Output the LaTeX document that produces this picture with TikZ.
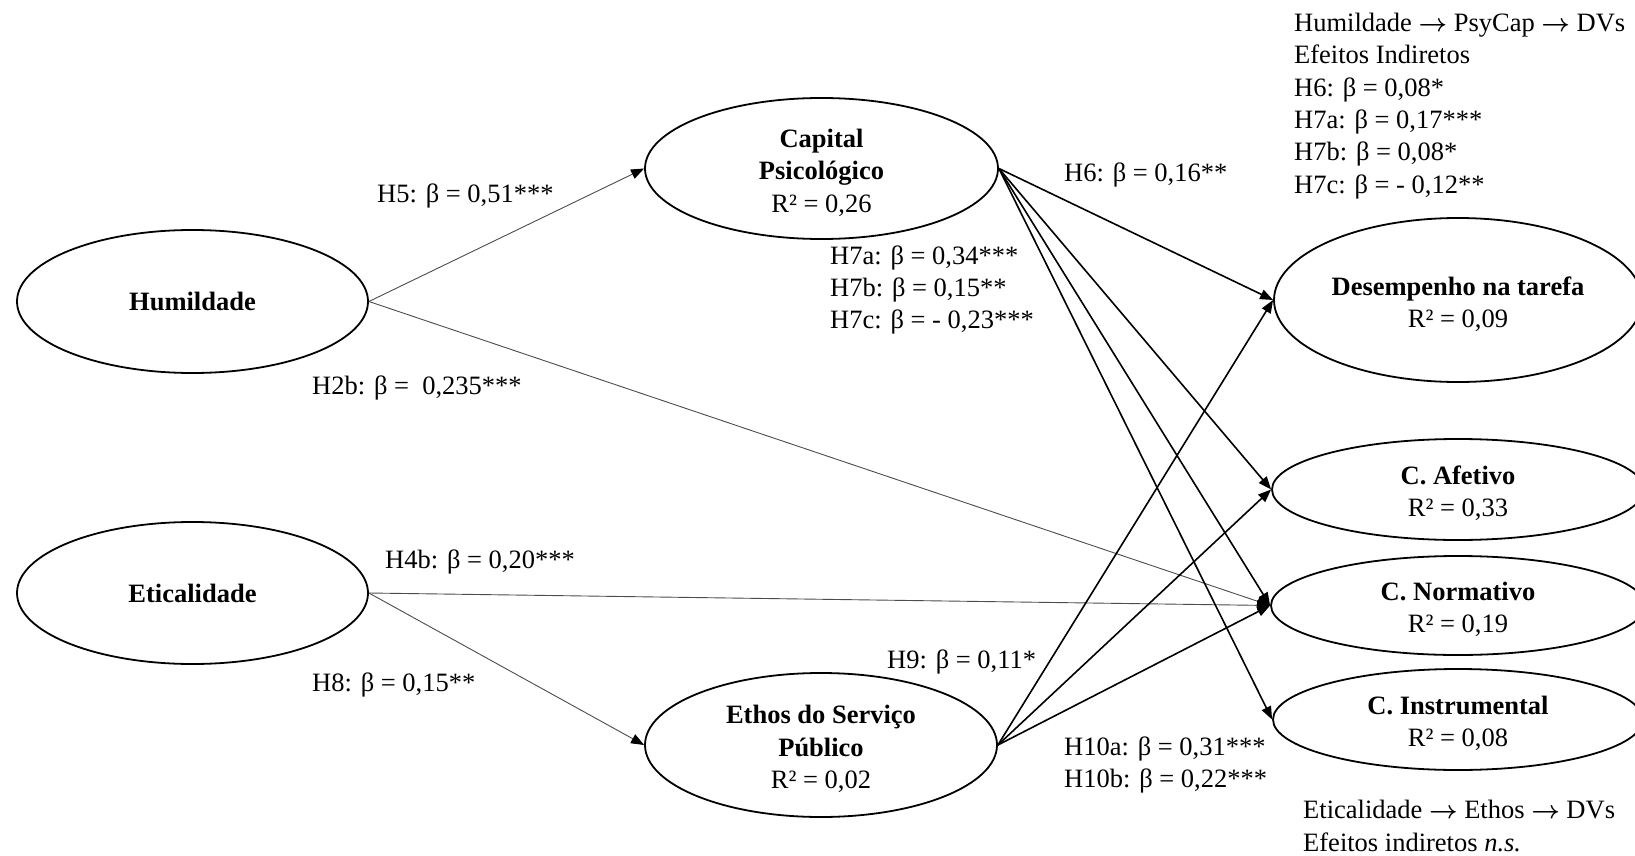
\documentclass[tikz,border=0pt]{standalone}
\usepackage{fontspec}
\setmainfont{Liberation Serif}
\usetikzlibrary{shapes.geometric,arrows.meta}
\newcommand{\tstrut}{\rule{0pt}{26.5pt}}
\newcommand{\barr}{{\boldmath$\rightarrow$}}
\begin{document}
\begin{tikzpicture}[x=1pt,y=-1pt,
  every node/.style={font=\fontsize{26.5}{32.4}\selectfont},
  latent/.style={ellipse, draw, line width=1.8pt, inner sep=0pt, align=center},
  tipx/.style={-{Triangle[length=13pt,width=10pt,color=black,fill=black]}},
  thinarr/.style={draw=black!70, line width=0.9pt, tipx},
  thickarr/.style={draw=black, line width=1.6pt, tipx},
  lbl/.style={anchor=west, inner sep=0pt, align=left}]
\useasboundingbox (0,0) rectangle (1635,856);
\clip (0,0) rectangle (1635,856);

% latent variables
\node[latent, minimum width=351pt, minimum height=143pt] (hum) at (192.5,301.5) {\textbf{Humildade}};
\node[latent, minimum width=351pt, minimum height=142pt] (eti) at (192.5,593) {\textbf{Eticalidade}};
\node[latent, minimum width=353pt, minimum height=141pt] (cap) at (821.5,168.5) {\tstrut\textbf{Capital}\\\textbf{Psicológico}\\R² = 0,26};
\node[latent, minimum width=352pt, minimum height=144pt] (eth) at (821,745) {\tstrut\textbf{Ethos do Serviço}\\\textbf{Público}\\R² = 0,02};
\node[latent, minimum width=368pt, minimum height=164pt] (des) at (1458,300) {\tstrut\textbf{Desempenho na tarefa}\\R² = 0,09};
\node[latent, minimum width=372pt, minimum height=101pt] (afe) at (1458,489.5) {\tstrut\textbf{C. Afetivo}\\R² = 0,33};
\node[latent, minimum width=374pt, minimum height=99pt] (nor) at (1458,605.5) {\tstrut\textbf{C. Normativo}\\R² = 0,19};
\node[latent, minimum width=370pt, minimum height=101pt] (ins) at (1458,719.5) {\tstrut\textbf{C. Instrumental}\\R² = 0,08};

% connectors
\draw[thinarr] (hum.east) -- (cap.west);
\draw[thinarr] (hum.east) -- (nor.west);
\draw[thinarr] (eti.east) -- (nor.west);
\draw[thinarr] (eti.east) -- (eth.west);
\draw[thickarr] (cap.east) -- (des.west);
\draw[thickarr] (cap.east) -- (afe.west);
\draw[thickarr] (cap.east) -- (nor.west);
\draw[thickarr] (cap.east) -- (ins.west);
\draw[thickarr] (eth.east) -- (des.west);
\draw[thickarr] (eth.east) -- (afe.west);
\draw[thickarr] (eth.east) -- (nor.west);

% path labels
\node[lbl] (l5) at (377,196) {H5: β = 0,51***};
\node[lbl] (l2b) at (312,388) {H2b: β = \ 0,235***};
\node[lbl] (l4b) at (385,562) {H4b: β = 0,20***};
\node[lbl] (l8) at (312,685) {H8: β = 0,15**};
\node[lbl] (l6) at (1064,175) {H6: β = 0,16**};
\node[lbl] (l7) at (830,290) {H7a: β = 0,34***\\H7b: β = 0,15**\\H7c: β = - 0,23***};
\node[lbl] (l9) at (887,662) {H9: β = 0,11*};
\node[lbl] (l10) at (1064,765) {H10a: β = 0,31***\\H10b: β = 0,22***};

% indirect effects
\node[lbl] (ind1) at (1294,106) {Humildade \barr{} PsyCap \barr{} DVs\\Efeitos Indiretos\\H6: β = 0,08*\\H7a: β = 0,17***\\H7b: β = 0,08*\\H7c: β = - 0,12**};
\node[lbl] (ind2) at (1303,826) {Eticalidade \barr{} Ethos \barr{} DVs\\Efeitos indiretos \textit{n.s.}};
\end{tikzpicture}
\end{document}
